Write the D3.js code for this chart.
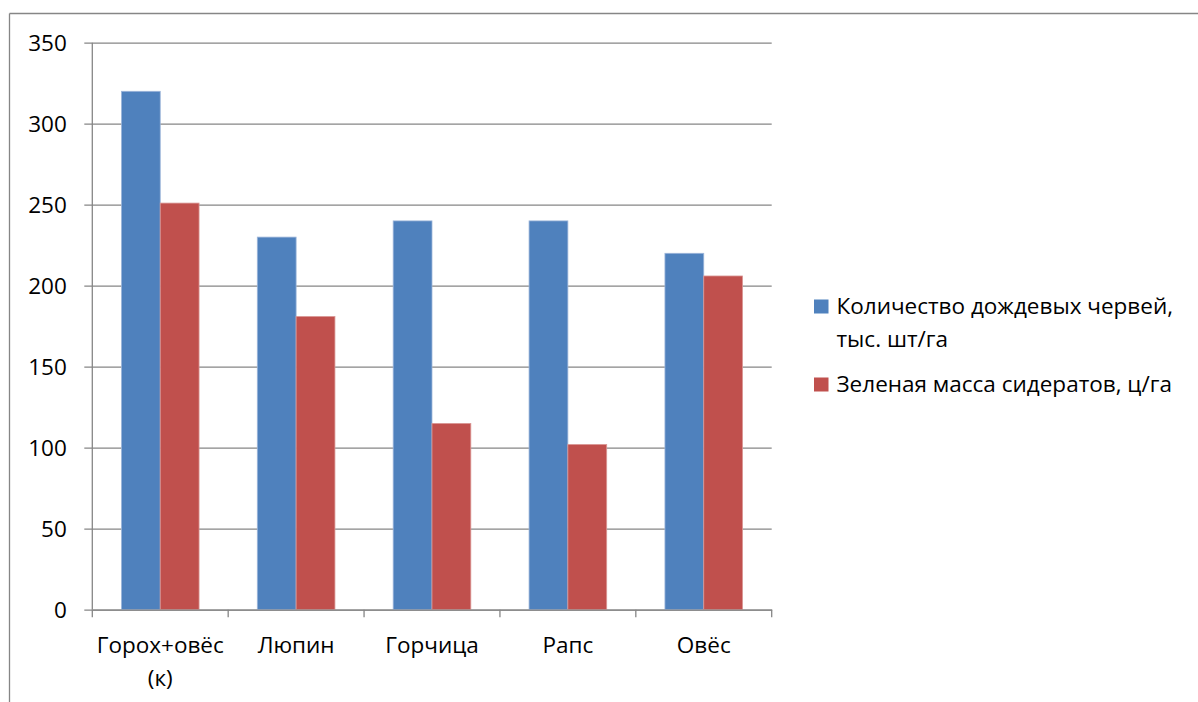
<!DOCTYPE html>
<html>
<head>
<meta charset="utf-8">
<script src="https://cdn.jsdelivr.net/npm/d3@7"></script>
<style>
  html, body { margin: 0; padding: 0; background: #fff; }
  svg { display: block; }
  text { font-family: "Open Sans", "Noto Sans", sans-serif; fill: #000; }
</style>
</head>
<body>
<svg id="chart" width="1198" height="702"></svg>
<script>
// ---- data ----
const categories = [["Горох+овёс", "(к)"], ["Люпин"], ["Горчица"], ["Рапс"], ["Овёс"]];
const seriesNames = [["Количество дождевых червей,", "тыс. шт/га"], ["Зеленая масса сидератов, ц/га"]];
const worms = [320, 230, 240, 240, 220];
const greenMass = [251, 181, 115, 102, 206];
const yTicks = [0, 50, 100, 150, 200, 250, 300, 350];
const colors = ["#4F81BD", "#C0504D"];

(function () {
const svg = d3.select("#chart");
const W = 1198, H = 702;
const pLeft = 92.3, pRight = 771.7, pTop = 42.7, pBottom = 609.7;
const fontSize = 22.5;

// outer frame (top and left edges visible)
svg.append("line").attr("x1", 9.5).attr("x2", W).attr("y1", 13.5).attr("y2", 13.5)
  .attr("stroke", "#868686").attr("stroke-width", 1.3);
svg.append("line").attr("x1", 9.5).attr("x2", 9.5).attr("y1", 13.5).attr("y2", H)
  .attr("stroke", "#868686").attr("stroke-width", 1.3);

const keys = categories.map((c, i) => i);
const x = d3.scaleBand().domain(keys).range([pLeft, pRight]).paddingInner(0).paddingOuter(0);
const y = d3.scaleLinear().domain([0, 350]).range([pBottom, pTop]);
const inner = d3.scaleBand().domain([0, 1]).range([0, x.bandwidth()]).paddingInner(0).paddingOuter(0.75);

// gridlines + y axis ticks
const yAxis = d3.axisLeft(y).tickValues(yTicks).tickSize(-(pRight - pLeft)).tickPadding(0).tickFormat("");
const gy = svg.append("g").attr("transform", `translate(${pLeft},0)`).call(yAxis);
gy.select(".domain").remove();
gy.selectAll(".tick line").attr("stroke", "#868686").attr("stroke-width", 1.3).attr("x1", -8);
gy.selectAll(".tick").append("text")
  .attr("x", -25.5).attr("dy", "0.35em").attr("text-anchor", "end")
  .style("font-size", fontSize + "px").text(d => d);

// bars
const seriesData = [worms, greenMass];
seriesData.forEach((vals, s) => {
  svg.append("g").selectAll("rect").data(vals).join("rect")
    .attr("x", (d, i) => x(i) + inner(s))
    .attr("width", inner.bandwidth())
    .attr("y", d => y(d))
    .attr("height", d => y(0) - y(d))
    .attr("fill", colors[s])
    .attr("stroke", s === 0 ? "#9DB6DA" : "#DA9896")
    .attr("stroke-width", 0.8);
});

// y axis line
svg.append("line").attr("x1", pLeft).attr("x2", pLeft).attr("y1", pTop).attr("y2", pBottom)
  .attr("stroke", "#868686").attr("stroke-width", 1.3);

// x axis
const xAxis = d3.axisBottom(x).tickSize(0).tickFormat("");
const gx = svg.append("g").attr("transform", `translate(0,${pBottom})`).call(xAxis);
gx.select(".domain").attr("stroke", "#868686").attr("stroke-width", 1.3);
gx.selectAll(".tick line").remove();
// category boundary ticks
const bounds = keys.map(k => x(k)).concat([pRight]);
gx.selectAll("line.bt").data(bounds).join("line").attr("class", "bt")
  .attr("x1", d => d).attr("x2", d => d).attr("y1", 0).attr("y2", 7.5)
  .attr("stroke", "#868686").attr("stroke-width", 1.3);
// category labels
gx.selectAll(".tick").each(function(k) {
  const t = d3.select(this).append("text").attr("text-anchor", "middle")
    .style("font-size", fontSize + "px");
  categories[k].forEach((line, j) => {
    t.append("tspan").attr("x", 0).attr("y", 43.5 + j * 32.5).text(line);
  });
});

// legend
const legendX = 814, textX = 836.5;
const legendRows = [{ s: 0, baselines: [313.5, 347] }, { s: 1, baselines: [391.5] }];
legendRows.forEach(r => {
  svg.append("rect").attr("x", legendX).attr("y", r.baselines[0] - 14).attr("width", 14.5).attr("height", 14)
    .attr("fill", colors[r.s]);
  const t = svg.append("text").style("font-size", fontSize + "px");
  seriesNames[r.s].forEach((line, j) => {
    t.append("tspan").attr("x", textX).attr("y", r.baselines[j]).text(line);
  });
});
})();
</script>
</body>
</html>
